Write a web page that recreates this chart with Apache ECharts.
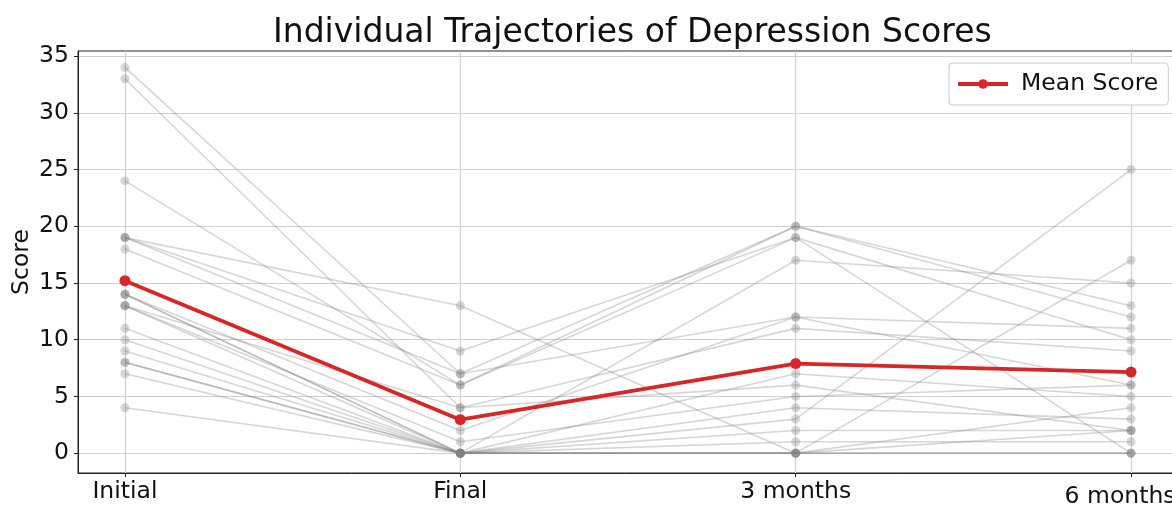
<!DOCTYPE html>
<html>
<head>
<meta charset="utf-8">
<script src="https://cdn.jsdelivr.net/npm/echarts@6/dist/echarts.min.js"></script>
<style>
  html, body { margin: 0; padding: 0; background: #ffffff; }
  #chart { width: 1172px; height: 507px; }
</style>
</head>
<body>
<div id="chart"></div>
<script>
// Assessment time points (x positions 0..3)
const timepoints = ['Initial', 'Final', '3 months', '6 months'];

// Depression scores per participant at each time point (same participant order in every array)
const initialScores  = [34, 33, 24, 19, 19, 19, 18, 14, 14, 14, 13, 13, 13, 11, 10, 9, 8, 8, 7, 4];
const finalScores    = [7, 4, 6, 13, 7, 9, 6, 0, 2, 0, 4, 0, 1, 0, 0, 0, 0, 0, 0, 0];
const threeMonthScores = [12, 11, 20, 0, 20, 19, 19, 17, 12, 7, 6, 3, 5, 0, 4, 2, 0, 1, 0, 0];
const sixMonthScores = [6, 9, 13, 2, 12, 10, 0, 15, 11, 5, 2, 25, 6, 17, 3, 2, 4, 1, 0, 0];

// y-axis tick values
const scoreTicks = [0, 5, 10, 15, 20, 25, 30, 35];

const font = 'DejaVu Sans';
const labelSize = 23.5;
const waves = [initialScores, finalScores, threeMonthScores, sixMonthScores];
const mean = arr => arr.reduce((a, b) => a + b, 0) / arr.length;
const meanScores = waves.map(mean);

const gray = 'rgba(128,128,128,0.32)';
const series = initialScores.map((_, i) => ({
  name: 'Participant ' + (i + 1),
  type: 'line',
  data: waves.map((w, t) => [t, w[i]]),
  symbol: 'circle',
  symbolSize: 9,
  lineStyle: { color: gray, width: 1.6 },
  itemStyle: { color: gray },
  silent: true,
  z: 2
}));

series.push({
  name: 'Mean Score',
  type: 'line',
  data: meanScores.map((v, t) => [t, v]),
  symbol: 'circle',
  symbolSize: 11,
  lineStyle: { color: '#d62728', width: 3.8 },
  itemStyle: { color: '#d62728' },
  z: 10
});

const chart = echarts.init(document.getElementById('chart'), null, { renderer: 'canvas' });
chart.setOption({
  animation: false,
  backgroundColor: '#ffffff',
  title: {
    text: 'Individual Trajectories of Depression Scores',
    left: 268,
    top: 12,
    textStyle: { fontFamily: font, fontSize: 33, fontWeight: 'normal', color: '#111' }
  },
  legend: {
    data: ['Mean Score'],
    left: 949,
    top: 63,
    padding: [9, 10, 9, 7],
    itemWidth: 50,
    itemHeight: 12,
    lineStyle: { width: 4 },
    backgroundColor: '#ffffff',
    borderColor: '#cccccc',
    borderWidth: 1,
    borderRadius: 4,
    textStyle: { fontFamily: font, fontSize: labelSize, color: '#111', padding: [0, 0, 0, 8] }
  },
  grid: {
    left: 78,
    width: 1100,
    top: 51,
    bottom: 34,
    containLabel: false,
    outerBoundsMode: 'none',
    show: true,
    borderColor: '#222',
    borderWidth: 1
  },
  xAxis: {
    type: 'value',
    min: -0.14,
    max: 3.14,
    axisLine: { show: true, onZero: false, lineStyle: { color: '#222', width: 1 } },
    axisTick: { show: true, length: 4, customValues: [0, 1, 2, 3], lineStyle: { color: '#222' } },
    axisLabel: {
      customValues: [0, 1, 2, 3],
      formatter: v => {
        const i = Math.round(v);
        return i === timepoints.length - 1 ? '{edge|' + timepoints[i] + '}' : timepoints[i];
      },
      rich: {
        edge: { fontFamily: font, fontSize: labelSize, color: '#111', padding: [5, 22, 0, 0] }
      },
      fontFamily: font, fontSize: labelSize, color: '#111', margin: 7
    },
    splitLine: { show: true, lineStyle: { color: '#d0d0d0', width: 1.2 } }
  },
  yAxis: {
    type: 'value',
    min: -1.75,
    max: 35.45,
    name: 'Score',
    nameLocation: 'middle',
    nameRotate: 90,
    nameGap: 44,
    nameMoveOverlap: false,
    nameTextStyle: { fontFamily: font, fontSize: labelSize, color: '#111' },
    axisLine: { show: true, onZero: false, lineStyle: { color: '#222', width: 1 } },
    axisTick: { show: true, length: 4, customValues: scoreTicks, lineStyle: { color: '#222' } },
    axisLabel: {
      customValues: scoreTicks,
      fontFamily: font, fontSize: labelSize, color: '#111', margin: 9
    },
    splitLine: { show: true, lineStyle: { color: '#d0d0d0', width: 1.2 } }
  },
  series: series
});
</script>
</body>
</html>
